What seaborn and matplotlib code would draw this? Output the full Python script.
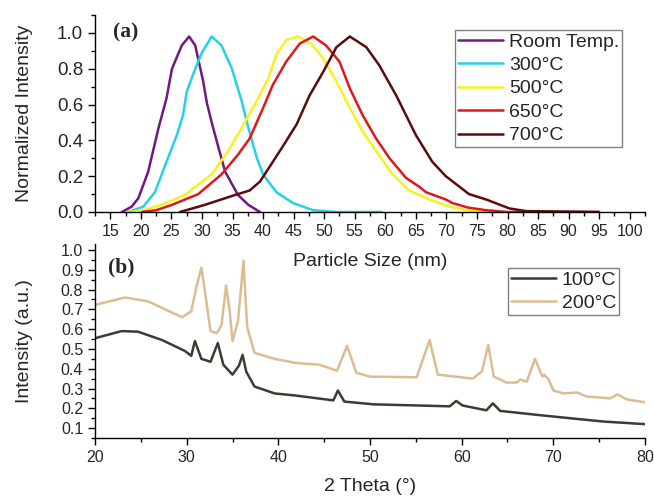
import numpy as np
import pandas as pd
import matplotlib
matplotlib.use("Agg")
import matplotlib.pyplot as plt
from matplotlib.ticker import MultipleLocator
import seaborn as sns

# (a) particle size distributions
room_x = [16.9, 18.5, 19.6, 21.2, 22.9, 24.2, 25.1, 26.7, 27.9, 28.9, 30.2, 30.8, 31.6, 32.7, 33.8, 35.9, 37.6, 39.5]
room_y = [0, 0.03, 0.077, 0.225, 0.47, 0.635, 0.80, 0.93, 0.98, 0.93, 0.73, 0.61, 0.50, 0.36, 0.225, 0.095, 0.04, 0.0]
t300_x = [18.0, 20.4, 22.3, 24.2, 25.9, 26.9, 27.5, 28.9, 30.0, 31.6, 33.2, 34.9, 36.5, 37.6, 39.0, 40.0, 42.2, 44.9, 48.2, 52.0, 59.4]
t300_y = [0, 0.03, 0.11, 0.28, 0.43, 0.54, 0.67, 0.80, 0.89, 0.98, 0.93, 0.80, 0.62, 0.47, 0.30, 0.21, 0.11, 0.05, 0.01, 0.0, 0.0]
t500_x = [18.0, 20.5, 23.4, 27.2, 31.6, 34.3, 37.0, 39.2, 40.8, 42.2, 43.8, 45.7, 47.9, 49.8, 52.0, 54.2, 56.3, 58.5, 61.2, 63.9, 67.2, 70.5, 73.0, 75.4, 78.0]
t500_y = [0, 0.01, 0.04, 0.095, 0.21, 0.34, 0.50, 0.635, 0.74, 0.88, 0.96, 0.98, 0.94, 0.86, 0.73, 0.58, 0.45, 0.34, 0.21, 0.12, 0.07, 0.03, 0.012, 0.003, 0.0]
t650_x = [20.2, 22.5, 25.1, 29.4, 33.2, 35.9, 37.8, 40.0, 41.6, 43.8, 46.0, 48.2, 50.3, 52.5, 54.2, 56.3, 58.5, 60.7, 63.4, 65.6, 66.7, 69.9, 71.0, 73.5, 76.5, 80.0, 95.0]
t650_y = [0, 0.01, 0.04, 0.10, 0.21, 0.32, 0.41, 0.58, 0.71, 0.84, 0.94, 0.98, 0.93, 0.84, 0.69, 0.54, 0.41, 0.30, 0.19, 0.14, 0.11, 0.07, 0.05, 0.025, 0.01, 0.0, 0.0]
t700_x = [26.4, 30.5, 35.4, 37.8, 39.5, 41.6, 43.3, 45.5, 47.6, 49.8, 52.0, 54.2, 56.9, 59.0, 61.8, 65.0, 67.7, 69.9, 73.7, 76.5, 80.3, 83.0, 95.0]
t700_y = [0, 0.04, 0.095, 0.12, 0.17, 0.28, 0.37, 0.49, 0.65, 0.78, 0.92, 0.98, 0.92, 0.82, 0.65, 0.43, 0.28, 0.20, 0.10, 0.07, 0.02, 0.005, 0.0]

# (b) XRD patterns
t100_x = [20, 22.9, 24.7, 27.3, 29.8, 30.5, 30.9, 31.6, 32.6, 33.4, 34.0, 35.0, 35.7, 36.1, 36.5, 37.4, 39.6, 41.8,
          46.0, 46.5, 47.2, 50.4, 58.7, 59.4, 60.1, 62.7, 63.4, 64.2, 68.2, 71.8, 75.5, 80]
t100_y = [0.554, 0.59, 0.587, 0.545, 0.49, 0.465, 0.54, 0.45, 0.435, 0.53, 0.42, 0.37, 0.415, 0.47, 0.385, 0.31, 0.275, 0.265,
          0.24, 0.29, 0.234, 0.22, 0.21, 0.237, 0.214, 0.19, 0.225, 0.187, 0.167, 0.15, 0.133, 0.12]
t200_x = [20, 23.3, 25.8, 29.5, 30.5, 31.1, 31.6, 32.0, 32.6, 33.3, 33.8, 34.3, 34.7, 35.0, 35.6, 36.2, 36.6, 37.4, 39.6,
          41.8, 44.5, 46.4, 47.5, 48.5, 50.0, 55.1, 56.5, 57.4, 61.2, 62.2, 62.9, 63.5, 64.9, 66.0, 66.4, 67.1, 68.0,
          68.8, 69.0, 69.5, 70.0, 71.1, 72.6, 73.6, 76.2, 77.0, 78.0, 80.0]
t200_y = [0.722, 0.76, 0.74, 0.66, 0.69, 0.82, 0.91, 0.79, 0.59, 0.58, 0.62, 0.82, 0.69, 0.54, 0.64, 0.945, 0.61, 0.48, 0.45,
          0.43, 0.42, 0.39, 0.515, 0.38, 0.36, 0.357, 0.545, 0.37, 0.35, 0.385, 0.52, 0.36, 0.33, 0.33, 0.345, 0.335, 0.45,
          0.36, 0.37, 0.345, 0.29, 0.275, 0.28, 0.26, 0.25, 0.27, 0.245, 0.23]

top_series = [("Room Temp.", room_x, room_y, "#6e1a80"),
              ("300°C", t300_x, t300_y, "#25d0e8"),
              ("500°C", t500_x, t500_y, "#f7f21e"),
              ("650°C", t650_x, t650_y, "#e01818"),
              ("700°C", t700_x, t700_y, "#5a0c0c")]
bot_series = [("100°C", t100_x, t100_y, "#3e3b30"),
              ("200°C", t200_x, t200_y, "#dbbd94")]

sns.set_style("ticks")
plt.rcParams['font.family'] = ['Liberation Sans', 'DejaVu Sans']

fig = plt.figure(figsize=(6.54, 4.97), dpi=100)
ax1 = fig.add_axes([95/654, 1-212/497, 550/654, 197/497])
ax2 = fig.add_axes([95/654, 1-438/497, 550/654, 194/497])
ax2.patch.set_visible(False)  # keep the top panel's x label visible

for name, xs, ys, c in top_series:
    sns.lineplot(x=xs, y=ys, ax=ax1, color=c, lw=1.8, label=name, estimator=None)
for name, xs, ys, c in bot_series:
    sns.lineplot(x=xs, y=ys, ax=ax2, color=c, lw=1.8, label=name, estimator=None)

for ax in (ax1, ax2):
    sns.despine(ax=ax)
    ax.tick_params(which='major', length=5, width=1, color='black', direction='out')
    ax.tick_params(which='minor', length=3, width=1, color='black', direction='out')
    for s in ('left', 'bottom'):
        ax.spines[s].set_color('black')
        ax.spines[s].set_linewidth(1)

ax1.set_xlim(12.5, 102.5)
ax1.set_ylim(0, 1.1)
ax1.xaxis.set_major_locator(MultipleLocator(5))
ax1.xaxis.set_minor_locator(MultipleLocator(2.5))
ax1.yaxis.set_major_locator(MultipleLocator(0.2))
ax1.yaxis.set_minor_locator(MultipleLocator(0.1))
ax1.set_xticks(np.arange(15, 101, 5))
ax1.tick_params(axis='x', labelsize=11.5)
ax1.tick_params(axis='y', labelsize=13.5)
ax1.yaxis.set_major_formatter(matplotlib.ticker.FormatStrFormatter('%.1f'))
ax1.set_xlabel("Particle Size (nm)", fontsize=14)
ax1.set_ylabel("Normalized Intensity", fontsize=14)
ax1.xaxis.set_label_coords(0.5, -(253-212)/197)
ax1.yaxis.set_label_coords(-62/550, 0.5)

ax2.set_xlim(20, 80)
ax2.set_ylim(0.05, 1.03)
ax2.xaxis.set_major_locator(MultipleLocator(10))
ax2.xaxis.set_minor_locator(MultipleLocator(5))
ax2.set_yticks(np.arange(0.1, 1.01, 0.1))
ax2.yaxis.set_minor_locator(MultipleLocator(0.05))
ax2.yaxis.set_major_formatter(matplotlib.ticker.FormatStrFormatter('%.1f'))
ax2.tick_params(axis='both', labelsize=11.5)
ax2.set_xlabel("2 Theta (°)", fontsize=14)
ax2.set_ylabel("Intensity (a.u.)", fontsize=14)
ax2.xaxis.set_label_coords(0.5, -(478-438)/194)
ax2.yaxis.set_label_coords(-62/550, 0.5)

ax1.text(18/550, 0.91, "(a)", transform=ax1.transAxes, fontsize=15.5, fontweight='bold',
         family='Liberation Serif', ha='left', va='center')
ax2.text(13/550, 0.88, "(b)", transform=ax2.transAxes, fontsize=15.5, fontweight='bold',
         family='Liberation Serif', ha='left', va='center')

leg_kw = dict(fontsize=14, frameon=True, fancybox=False, framealpha=1, edgecolor='#808080',
              borderpad=0.15, labelspacing=0.3, handlelength=2.3, handletextpad=0.3, borderaxespad=0)
l1 = ax1.legend(loc='upper right', bbox_to_anchor=((622-95)/550, (212-30)/197), **leg_kw)
l2 = ax2.legend(loc='upper right', bbox_to_anchor=((619-95)/550, (438-268)/194), **leg_kw)
for l in (l1, l2):
    l.get_frame().set_linewidth(1)

fig.savefig("out.png", dpi=100)
